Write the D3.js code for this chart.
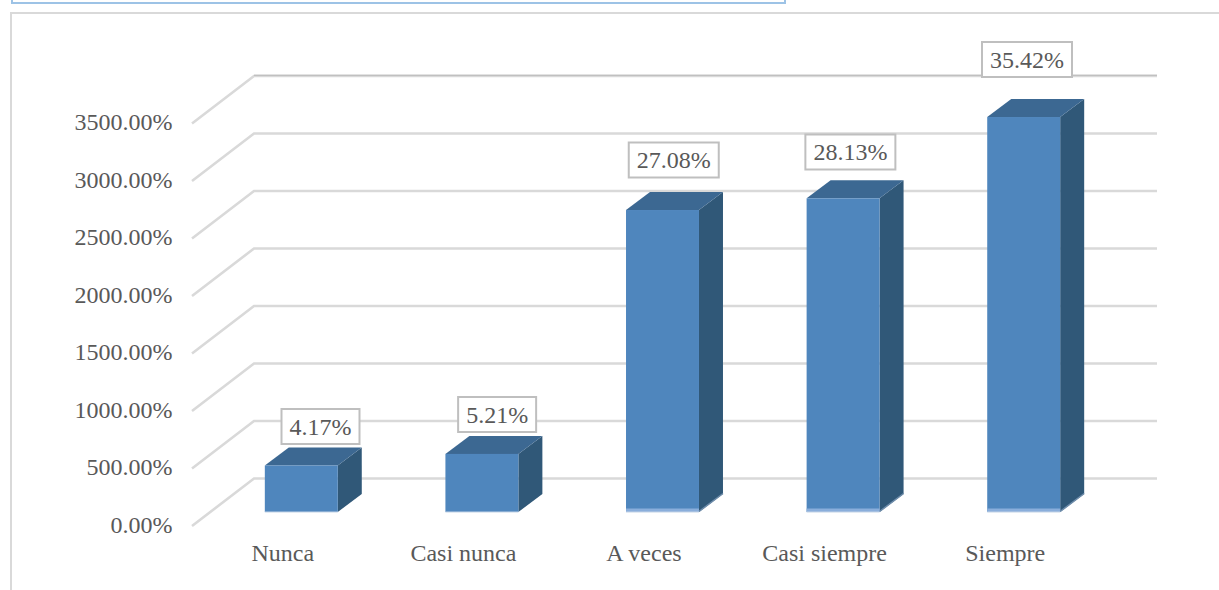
<!DOCTYPE html>
<html lang="es">
<head>
<meta charset="utf-8">
<script src="https://cdn.jsdelivr.net/npm/d3@7/dist/d3.min.js"></script>
<style>
html,body{margin:0;padding:0;background:#fff;overflow:hidden}
svg{display:block}
text{font-family:"Liberation Serif",serif;fill:#595959}
</style>
</head>
<body>
<script>
const categories = ["Nunca", "Casi nunca", "A veces", "Casi siempre", "Siempre"];
const values = [417, 521, 2708, 2813, 3542];
const valueLabels = ["4.17%", "5.21%", "27.08%", "28.13%", "35.42%"];
const axisTicks = [0, 500, 1000, 1500, 2000, 2500, 3000, 3500];

const W = 1219, H = 590, FS = "24px";
const depthX = 24, depthY = 18;
const wallX = 62, wallY = 47.5;

const svg = d3.select("body").append("svg").attr("width", W).attr("height", H);

// page frames
svg.append("path").attr("d", "M12,-2V3H785V-2").attr("fill", "none").attr("stroke", "#9dc3e6").attr("stroke-width", 2);
svg.append("path").attr("d", "M11,590V13H1219").attr("fill", "none").attr("stroke", "#d9d9d9").attr("stroke-width", 2);

// scales
const yFront = d3.scaleLinear().domain([0, 3500]).range([526, 123.5]);
const yBar = d3.scaleLinear().domain([0, 3500]).range([512, 121.7]);
const x = d3.scaleBand().domain(categories).range([211, 1114]).paddingInner(0.596).paddingOuter(0.298);
const labelX = d3.scalePoint().domain(categories).range([320.5, 1027]);
const labelY = d3.scaleLinear().domain(values).range([426.5, 414.5, 160, 152, 59.5]);

// grid
const grid = svg.append("g").attr("fill", "none");
grid.selectAll("path").data(axisTicks).join("path")
  .attr("d", t => {
    const y0 = yFront(t);
    return `M192,${y0}L${192 + wallX},${y0 - wallY}H1157`;
  })
  .attr("stroke", "#d9d9d9").attr("stroke-width", 2.6);
grid.append("path")
  .attr("d", `M254,${yFront(3500) - wallY - 0.8}H1157`)
  .attr("stroke", "#b5b5b5").attr("stroke-width", 1);

// axes
const yAxis = d3.axisLeft(yFront).tickValues(axisTicks).tickSize(0).tickPadding(0)
  .tickFormat(t => d3.format(".2f")(t) + "%");
svg.append("g").attr("transform", "translate(172.5,-1.5)").call(yAxis)
  .call(g => g.select(".domain").remove())
  .selectAll("text").style("font-size", FS).style("font-family", '"Liberation Serif",serif').attr("fill", "#595959");

const xAxis = d3.axisBottom(x).tickSize(0).tickPadding(0);
svg.append("g").attr("transform", "translate(-18.5,543.5)").call(xAxis)
  .call(g => g.select(".domain").remove())
  .selectAll("text").style("font-size", FS).style("font-family", '"Liberation Serif",serif').attr("fill", "#595959");

// bars
const rows = categories.map((c, i) => ({c, v: values[i], label: valueLabels[i]}));
const bars = svg.selectAll(".bar").data(rows).join("g").attr("class", "bar");
const base = yBar(0), bw = x.bandwidth();
bars.append("path") // side
  .attr("d", d => {
    const r = x(d.c) + bw, t = yBar(d.v);
    return `M${r},${t}l${depthX},${-depthY}V${base - depthY}L${r},${base}Z`;
  })
  .attr("fill", "#305878");
bars.append("path") // top
  .attr("d", d => {
    const l = x(d.c), t = yBar(d.v);
    return `M${l},${t}l${depthX},${-depthY}h${bw}l${-depthX},${depthY}Z`;
  })
  .attr("fill", "#3c6892");
bars.append("rect") // front
  .attr("x", d => x(d.c)).attr("y", d => yBar(d.v))
  .attr("width", bw).attr("height", d => base - yBar(d.v))
  .attr("fill", "#4f86bd");
bars.filter(d => d.v > 1000).append("rect") // light bottom strip
  .attr("x", d => x(d.c)).attr("y", base - 3.5)
  .attr("width", bw).attr("height", 3.5)
  .attr("fill", "#8aaedb");
bars.filter(d => d.v > 1000).append("path") // light edge on the side's foot
  .attr("d", d => {
    const r = x(d.c) + bw;
    return `M${r},${base - 0.5}l${depthX},${-depthY}`;
  })
  .attr("stroke", "#6f8dab").attr("stroke-width", 1.5).attr("fill", "none");
bars.append("path") // pale front foot
  .attr("d", d => `M${x(d.c)},${base}h${bw}`)
  .attr("stroke", "#c3d3e6").attr("stroke-width", 1);

// data labels
const lab = svg.selectAll(".lab").data(rows).join("g").attr("class", "lab")
  .attr("transform", d => `translate(${labelX(d.c)},${labelY(d.v)})`);
lab.append("text").attr("text-anchor", "middle").attr("dy", "0.34em").style("font-size", FS).text(d => d.label)
  .each(function() {
    const b = this.getBBox();
    d3.select(this.parentNode).insert("rect", "text")
      .attr("x", b.x - 8).attr("y", -17.5)
      .attr("width", b.width + 16).attr("height", 35)
      .attr("fill", "#fff").attr("stroke", "#bfbfbf").attr("stroke-width", 2);
  });
</script>
</body>
</html>
